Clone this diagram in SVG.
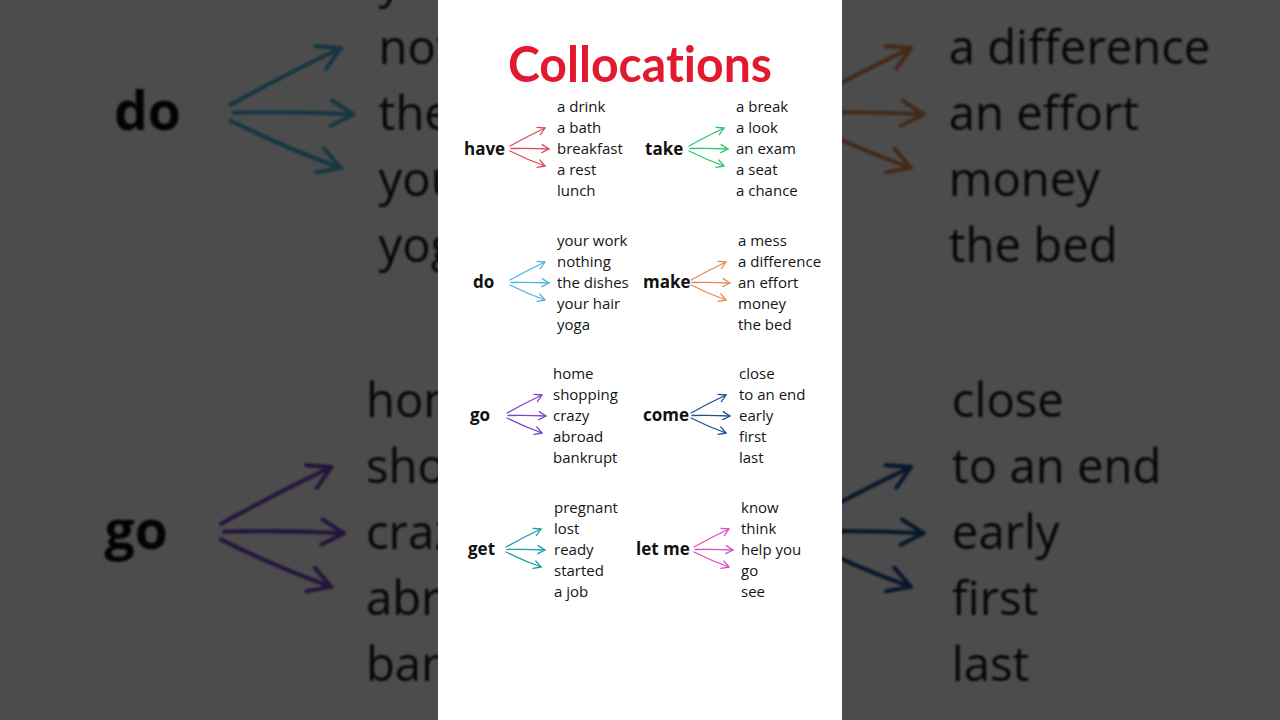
<svg xmlns="http://www.w3.org/2000/svg" xmlns:xlink="http://www.w3.org/1999/xlink" width="1280" height="720" viewBox="0 0 1280 720">
<style>
.title{font-family:"Lato","Open Sans","DejaVu Sans",sans-serif;font-weight:700;font-size:50px;fill:#e3192f;font-variant-ligatures:none;font-feature-settings:"liga" 0}
.lbl{font-family:"Open Sans","Noto Sans","DejaVu Sans",sans-serif;font-size:15px;fill:#151515}
.verb{font-family:"Open Sans","Noto Sans","DejaVu Sans",sans-serif;font-size:17px;font-weight:700;fill:#111}
.arr{fill:none;stroke-width:1.3;stroke-linecap:round}
</style>
<defs>
<filter id="blur" x="-5%" y="-5%" width="110%" height="110%"><feGaussianBlur stdDeviation="1.2"/></filter>
<marker id="m-have" markerUnits="userSpaceOnUse" markerWidth="12" markerHeight="12" refX="8" refY="4.5" orient="auto" overflow="visible"><path d="M1,0.5 L8,4.5 L1,8.5" fill="none" stroke="#d64a5a" stroke-width="1.3" stroke-linecap="round" stroke-linejoin="round"/></marker>
<marker id="m-take" markerUnits="userSpaceOnUse" markerWidth="12" markerHeight="12" refX="8" refY="4.5" orient="auto" overflow="visible"><path d="M1,0.5 L8,4.5 L1,8.5" fill="none" stroke="#2bc46a" stroke-width="1.3" stroke-linecap="round" stroke-linejoin="round"/></marker>
<marker id="m-do" markerUnits="userSpaceOnUse" markerWidth="12" markerHeight="12" refX="8" refY="4.5" orient="auto" overflow="visible"><path d="M1,0.5 L8,4.5 L1,8.5" fill="none" stroke="#4ab5e0" stroke-width="1.3" stroke-linecap="round" stroke-linejoin="round"/></marker>
<marker id="m-make" markerUnits="userSpaceOnUse" markerWidth="12" markerHeight="12" refX="8" refY="4.5" orient="auto" overflow="visible"><path d="M1,0.5 L8,4.5 L1,8.5" fill="none" stroke="#e08d55" stroke-width="1.3" stroke-linecap="round" stroke-linejoin="round"/></marker>
<marker id="m-go" markerUnits="userSpaceOnUse" markerWidth="12" markerHeight="12" refX="8" refY="4.5" orient="auto" overflow="visible"><path d="M1,0.5 L8,4.5 L1,8.5" fill="none" stroke="#7a45c9" stroke-width="1.3" stroke-linecap="round" stroke-linejoin="round"/></marker>
<marker id="m-come" markerUnits="userSpaceOnUse" markerWidth="12" markerHeight="12" refX="8" refY="4.5" orient="auto" overflow="visible"><path d="M1,0.5 L8,4.5 L1,8.5" fill="none" stroke="#1d4f91" stroke-width="1.3" stroke-linecap="round" stroke-linejoin="round"/></marker>
<marker id="m-get" markerUnits="userSpaceOnUse" markerWidth="12" markerHeight="12" refX="8" refY="4.5" orient="auto" overflow="visible"><path d="M1,0.5 L8,4.5 L1,8.5" fill="none" stroke="#1c9ca6" stroke-width="1.3" stroke-linecap="round" stroke-linejoin="round"/></marker>
<marker id="m-letme" markerUnits="userSpaceOnUse" markerWidth="12" markerHeight="12" refX="8" refY="4.5" orient="auto" overflow="visible"><path d="M1,0.5 L8,4.5 L1,8.5" fill="none" stroke="#d84fbf" stroke-width="1.3" stroke-linecap="round" stroke-linejoin="round"/></marker>
</defs>

<rect x="0" y="0" width="1280" height="720" fill="#ffffff"/>
<g filter="url(#blur)"><use href="#content" xlink:href="#content" transform="translate(640,360) scale(3.15) translate(-640,-361)"/></g>
<rect x="0" y="0" width="1280" height="720" fill="#000000" opacity="0.7"/>
<rect x="438" y="0" width="404" height="720" fill="#ffffff"/>

<g id="content">
<text class="title" x="640" y="82" text-anchor="middle" textLength="264" lengthAdjust="spacingAndGlyphs">Collocations</text>

<g id="node-have">
<text class="verb" x="464" y="155">have</text>
<text class="lbl" x="557" y="112">a drink</text>
<text class="lbl" x="557" y="133">a bath</text>
<text class="lbl" x="557" y="154">breakfast</text>
<text class="lbl" x="557" y="175">a rest</text>
<text class="lbl" x="557" y="196">lunch</text>
</g>
<g id="node-take">
<text class="verb" x="645" y="155">take</text>
<text class="lbl" x="736" y="112">a break</text>
<text class="lbl" x="736" y="133">a look</text>
<text class="lbl" x="736" y="154">an exam</text>
<text class="lbl" x="736" y="175">a seat</text>
<text class="lbl" x="736" y="196">a chance</text>
</g>
<g id="node-do">
<text class="verb" x="473" y="288">do</text>
<text class="lbl" x="557" y="246">your work</text>
<text class="lbl" x="557" y="267">nothing</text>
<text class="lbl" x="557" y="288">the dishes</text>
<text class="lbl" x="557" y="309">your hair</text>
<text class="lbl" x="557" y="330">yoga</text>
</g>
<g id="node-make">
<text class="verb" x="643" y="288">make</text>
<text class="lbl" x="738" y="246">a mess</text>
<text class="lbl" x="738" y="267">a difference</text>
<text class="lbl" x="738" y="288">an effort</text>
<text class="lbl" x="738" y="309">money</text>
<text class="lbl" x="738" y="330">the bed</text>
</g>
<g id="node-go">
<text class="verb" x="470" y="421">go</text>
<text class="lbl" x="553" y="379">home</text>
<text class="lbl" x="553" y="400">shopping</text>
<text class="lbl" x="553" y="421">crazy</text>
<text class="lbl" x="553" y="442">abroad</text>
<text class="lbl" x="553" y="463">bankrupt</text>
</g>
<g id="node-come">
<text class="verb" x="643" y="421">come</text>
<text class="lbl" x="739" y="379">close</text>
<text class="lbl" x="739" y="400">to an end</text>
<text class="lbl" x="739" y="421">early</text>
<text class="lbl" x="739" y="442">first</text>
<text class="lbl" x="739" y="463">last</text>
</g>
<g id="node-get">
<text class="verb" x="468" y="555">get</text>
<text class="lbl" x="554" y="513">pregnant</text>
<text class="lbl" x="554" y="534">lost</text>
<text class="lbl" x="554" y="555">ready</text>
<text class="lbl" x="554" y="576">started</text>
<text class="lbl" x="554" y="597">a job</text>
</g>
<g id="node-letme">
<text class="verb" x="636" y="555">let me</text>
<text class="lbl" x="741" y="513">know</text>
<text class="lbl" x="741" y="534">think</text>
<text class="lbl" x="741" y="555">help you</text>
<text class="lbl" x="741" y="576">go</text>
<text class="lbl" x="741" y="597">see</text>
</g>

<g id="connectors">
<g transform="translate(510,148)" stroke="#d64a5a">
<path class="arr" d="M0,-2 Q18,-12 35,-20" marker-end="url(#m-have)"/>
<path class="arr" d="M1,0.5 Q20,0 39,1" marker-end="url(#m-have)"/>
<path class="arr" d="M0,3 Q18,12 35,18" marker-end="url(#m-have)"/>
</g>
<g transform="translate(689,148)" stroke="#2bc46a">
<path class="arr" d="M0,-2 Q18,-12 35,-20" marker-end="url(#m-take)"/>
<path class="arr" d="M1,0.5 Q20,0 39,1" marker-end="url(#m-take)"/>
<path class="arr" d="M0,3 Q18,12 35,18" marker-end="url(#m-take)"/>
</g>
<g transform="translate(510,282)" stroke="#4ab5e0">
<path class="arr" d="M0,-2 Q18,-12 35,-20" marker-end="url(#m-do)"/>
<path class="arr" d="M1,0.5 Q20,0 39,1" marker-end="url(#m-do)"/>
<path class="arr" d="M0,3 Q18,12 35,18" marker-end="url(#m-do)"/>
</g>
<g transform="translate(691,282)" stroke="#e08d55">
<path class="arr" d="M0,-2 Q18,-12 35,-20" marker-end="url(#m-make)"/>
<path class="arr" d="M1,0.5 Q20,0 39,1" marker-end="url(#m-make)"/>
<path class="arr" d="M0,3 Q18,12 35,18" marker-end="url(#m-make)"/>
</g>
<g transform="translate(507,415)" stroke="#7a45c9">
<path class="arr" d="M0,-2 Q18,-12 35,-20" marker-end="url(#m-go)"/>
<path class="arr" d="M1,0.5 Q20,0 39,1" marker-end="url(#m-go)"/>
<path class="arr" d="M0,3 Q18,12 35,18" marker-end="url(#m-go)"/>
</g>
<g transform="translate(691,415)" stroke="#1d4f91">
<path class="arr" d="M0,-2 Q18,-12 35,-20" marker-end="url(#m-come)"/>
<path class="arr" d="M1,0.5 Q20,0 39,1" marker-end="url(#m-come)"/>
<path class="arr" d="M0,3 Q18,12 35,18" marker-end="url(#m-come)"/>
</g>
<g transform="translate(506,549)" stroke="#1c9ca6">
<path class="arr" d="M0,-2 Q18,-12 35,-20" marker-end="url(#m-get)"/>
<path class="arr" d="M1,0.5 Q20,0 39,1" marker-end="url(#m-get)"/>
<path class="arr" d="M0,3 Q18,12 35,18" marker-end="url(#m-get)"/>
</g>
<g transform="translate(694,549)" stroke="#d84fbf">
<path class="arr" d="M0,-2 Q18,-12 35,-20" marker-end="url(#m-letme)"/>
<path class="arr" d="M1,0.5 Q20,0 39,1" marker-end="url(#m-letme)"/>
<path class="arr" d="M0,3 Q18,12 35,18" marker-end="url(#m-letme)"/>
</g>
</g>
</g>
</svg>
